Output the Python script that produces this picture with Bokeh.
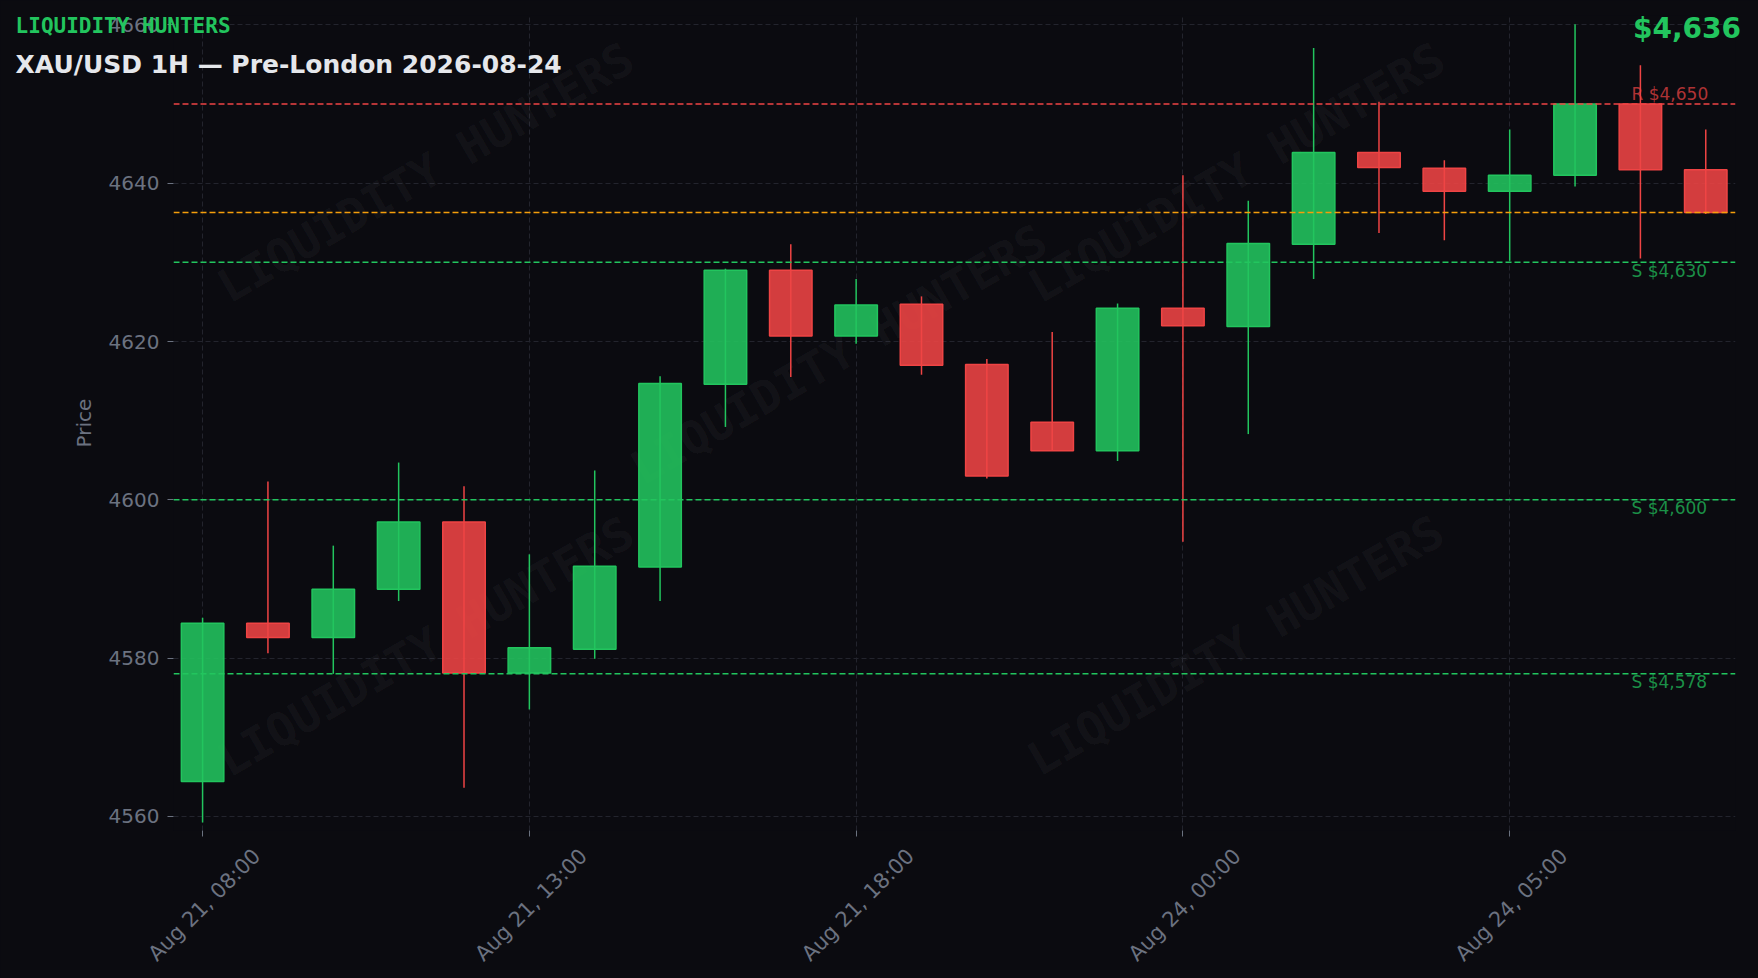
import math
from bokeh.plotting import figure
from bokeh.models import (Range1d, FixedTicker, SingleIntervalTicker, Span, Label,
                          ColumnDataSource, LinearAxis)
from bokeh.embed import file_html
from bokeh.resources import INLINE

# ---------------- data ----------------
times = ["Aug 21, 08:00", "Aug 21, 09:00", "Aug 21, 10:00", "Aug 21, 11:00",
         "Aug 21, 12:00", "Aug 21, 13:00", "Aug 21, 14:00", "Aug 21, 15:00",
         "Aug 21, 16:00", "Aug 21, 17:00", "Aug 21, 18:00", "Aug 21, 19:00",
         "Aug 21, 20:00", "Aug 21, 21:00", "Aug 21, 22:00", "Aug 24, 00:00",
         "Aug 24, 01:00", "Aug 24, 02:00", "Aug 24, 03:00", "Aug 24, 04:00",
         "Aug 24, 05:00", "Aug 24, 06:00", "Aug 24, 07:00", "Aug 24, 08:00"]
opens = [4564.4, 4584.4, 4582.6, 4588.7, 4597.2, 4578.1, 4581.1, 4591.5,
         4614.6, 4629.0, 4620.7, 4624.7, 4617.1, 4609.8, 4606.2, 4624.2,
         4621.9, 4632.3, 4643.9, 4641.9, 4639.0, 4641.0, 4650.0, 4641.7]
highs = [4585.1, 4602.3, 4594.2, 4604.7, 4601.7, 4593.1, 4603.7, 4615.6,
         4629.2, 4632.3, 4627.9, 4625.7, 4617.8, 4621.2, 4624.8, 4641.0,
         4637.8, 4657.1, 4650.3, 4642.9, 4646.8, 4660.1, 4654.9, 4646.8]
lows = [4559.2, 4580.6, 4578.0, 4587.2, 4563.6, 4573.5, 4579.9, 4587.2,
        4609.2, 4615.5, 4619.7, 4615.8, 4602.7, 4606.2, 4604.9, 4594.7,
        4608.3, 4627.9, 4633.7, 4632.8, 4630.2, 4639.6, 4630.5, 4636.1]
closes = [4584.4, 4582.6, 4588.7, 4597.2, 4578.1, 4581.3, 4591.6, 4614.7,
          4629.0, 4620.7, 4624.6, 4617.0, 4603.0, 4606.2, 4624.2, 4622.0,
          4632.4, 4643.9, 4642.0, 4639.0, 4641.0, 4650.0, 4641.7, 4636.3]
resistance_levels = [4650]
support_levels = [4630, 4600, 4578]
tick_index = [0, 5, 10, 15, 20]
brand = "LIQUIDITY HUNTERS"
title_text = "XAU/USD 1H — Pre-London 2026-08-24"

# ---------------- style ----------------
BG = "#0b0b10"
GREEN = "#22c55e"
RED = "#ef4444"
ORANGE = "#f59e0b"
GRID = "#23242d"
MUTED = "#6b7280"
FONT = "DejaVu Sans"
MONO = "DejaVu Sans Mono"

n = len(opens)
xs = list(range(n))
colors = [GREEN if c >= o else RED for o, c in zip(opens, closes)]
src = ColumnDataSource(dict(
    x=xs, high=highs, low=lows,
    top=[max(o, c) for o, c in zip(opens, closes)],
    bottom=[min(o, c) for o, c in zip(opens, closes)],
    color=colors,
))

X0, X1 = -0.445, n - 1 + 0.455
p = figure(width=1758, height=978,
           x_range=Range1d(X0, X1),
           y_range=Range1d(4558.2, 4661.2),
           output_backend="svg", toolbar_location=None,
           background_fill_color=BG, border_fill_color=BG,
           outline_line_color=None,
           min_border_left=173, min_border_right=23,
           min_border_top=15, min_border_bottom=148)

# grid
for g in (p.xgrid, p.ygrid):
    g.grid_line_color = GRID
    g.grid_line_dash = "5 3"
    g.grid_line_width = 1

# watermark
wm_pos = [(252, 658), (665, 476), (1063, 658), (252, 184), (1062, 185)]
for wx, wy in wm_pos:
    p.add_layout(Label(x=wx, y=wy, x_units="screen", y_units="screen",
                       text=brand, angle=math.radians(30),
                       text_align="center", text_baseline="middle",
                       text_font=MONO, text_font_style="bold",
                       text_font_size="46px", text_color="#ffffff",
                       text_alpha=0.055, level="underlay"))

# candles
p.segment(x0="x", y0="high", x1="x", y1="low", source=src,
          line_color="color", line_width=1.5)
p.vbar(x="x", width=0.65, top="top", bottom="bottom", source=src,
       fill_color="color", fill_alpha=0.88, line_color="color", line_width=1.5)

# levels
for lv in resistance_levels:
    p.add_layout(Span(location=lv, dimension="width", line_color=RED,
                      line_dash="6 3", line_width=1.5))
    p.add_layout(Label(x=1458, x_units="screen", y=lv, y_units="data",
                       text=f"R ${lv:,.0f}", text_align="left",
                       text_baseline="bottom", y_offset=0,
                       text_font=FONT, text_font_size="17px",
                       text_color=RED, text_alpha=0.72))
for lv in support_levels:
    p.add_layout(Span(location=lv, dimension="width", line_color=GREEN,
                      line_dash="6 3", line_width=1.5))
    p.add_layout(Label(x=1458, x_units="screen", y=lv, y_units="data",
                       text=f"S ${lv:,.0f}", text_align="left",
                       text_baseline="top", y_offset=1.5,
                       text_font=FONT, text_font_size="17px",
                       text_color=GREEN, text_alpha=0.72))
last = closes[-1]
p.add_layout(Span(location=last, dimension="width", line_color=ORANGE,
                  line_dash="6 3", line_width=1.5))

# y axis
p.yaxis.ticker = SingleIntervalTicker(interval=20)
p.yaxis.axis_line_color = None
p.yaxis.major_tick_line_color = MUTED
p.yaxis.major_tick_out = 6
p.yaxis.major_tick_in = 0
p.yaxis.minor_tick_line_color = None
p.yaxis.major_label_text_color = MUTED
p.yaxis.major_label_text_font = FONT
p.yaxis.major_label_text_font_size = "20px"
p.yaxis.major_label_standoff = 8
p.yaxis.axis_label = "Price"
p.yaxis.axis_label_text_color = MUTED
p.yaxis.axis_label_text_font = FONT
p.yaxis.axis_label_text_font_style = "normal"
p.yaxis.axis_label_text_font_size = "20px"
p.yaxis.axis_label_standoff = 10

# x axis: tick marks on the main axis, labels on a companion axis shifted so that
# the rotated labels are centred on their ticks
xa = p.xaxis[0]
xa.ticker = FixedTicker(ticks=tick_index)
xa.axis_line_color = None
xa.major_tick_line_color = MUTED
xa.major_tick_out = 6
xa.major_tick_in = 0
xa.minor_tick_line_color = None
xa.major_label_overrides = {i: "" for i in tick_index}
xa.major_label_text_font_size = "0px"
xa.major_label_standoff = 0

shift = 0.83
p.extra_x_ranges = {"labels": Range1d(X0 - shift, X1 - shift)}
xl = LinearAxis(x_range_name="labels", ticker=FixedTicker(ticks=tick_index),
                major_label_overrides={i: times[i] for i in tick_index},
                major_label_orientation=math.pi / 4,
                major_label_text_color=MUTED, major_label_text_font=FONT,
                major_label_text_font_size="21px", major_label_standoff=16,
                axis_line_color=None, major_tick_line_color=None,
                major_tick_out=0, major_tick_in=0, minor_tick_line_color=None)
p.add_layout(xl, "below")

html = file_html(p, INLINE, title="XAU/USD 1H")

# header texts are drawn over the page (annotations are clipped to the frame)
def header(text, size, family, color, left=None, right=None, baseline=0.0):
    top = baseline - 0.928 * size
    pos = f"left:{left}px;" if left is not None else f"right:{right}px;"
    return (f'<div style="position:absolute;{pos}top:{top:.1f}px;'
            f"font-family:'{family}';font-weight:bold;font-size:{size}px;"
            f'line-height:normal;color:{color};white-space:nowrap;z-index:10;">'
            f'{text}</div>')

overlay = (header(brand, 21, MONO, GREEN, left=15.6, baseline=33.0)
           + header(title_text, 25, FONT, "#e5e7eb", left=15.6, baseline=72.7)
           + header(f"${last:,.0f}", 28, FONT, GREEN, right=17, baseline=37.5))
html = html.replace("</head>", "<style>body{background:#0b0b10;}</style></head>", 1)
html = html.replace("</body>", overlay + "</body>", 1)
open("out.html", "w").write(html)
